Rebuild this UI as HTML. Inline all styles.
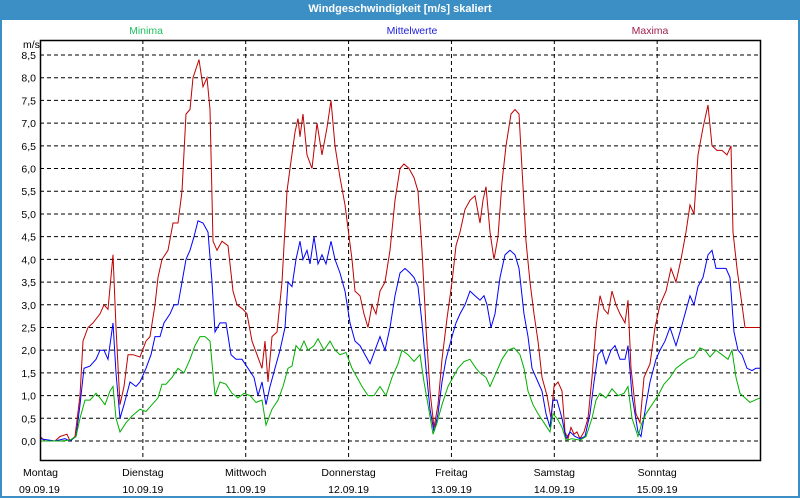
<!DOCTYPE html>
<html><head><meta charset="utf-8"><style>
body{margin:0;width:800px;height:500px;overflow:hidden;background:#fff;font-family:"Liberation Sans",sans-serif}
#f{position:absolute;left:0;top:0;width:796px;height:496px;border:2px solid #3c8fc4;border-top:none}
#t{position:absolute;left:0;top:0;width:800px;height:20px;background:#3c8fc4;color:#fff;font-weight:bold;font-size:11px;text-align:center;line-height:19px}
</style></head><body>
<div id="f"></div><div id="t">Windgeschwindigkeit [m/s] skaliert</div>
<svg id="s" width="800" height="500" style="position:absolute;left:0;top:0" font-family="Liberation Sans, sans-serif" font-size="10.5"></svg>
<script>
const s=document.getElementById('s');let h='';
const Y=v=>441-v*45.41;
for(let i=0;i<=17;i++){const v=i*0.5,y=Y(v);h+=`<line x1="40" x2="760" y1="${y}" y2="${y}" stroke="#000" stroke-dasharray="4,3"/>`;h+=`<text x="36" y="${y+4}" text-anchor="end">${v.toFixed(1).replace('.',',')}</text>`;}
const days=['Montag','Dienstag','Mittwoch','Donnerstag','Freitag','Samstag','Sonntag'];
for(let k=0;k<7;k++){const x=40+102.86*k;if(k>0)h+=`<line x1="${x}" x2="${x}" y1="40" y2="460" stroke="#000" stroke-dasharray="4,3"/>`;
h+=`<text x="${k?x:23}" y="476" text-anchor="${k?'middle':'start'}">${days[k]}</text><text x="${k?x:19}" y="493" text-anchor="${k?'middle':'start'}">${String(9+k).padStart(2,'0')}.09.19</text>`;}
h+=`<text x="23" y="48">m/s</text>`;
h+=`<text x="146" y="34" fill="#20c060" text-anchor="middle">Minima</text><text x="412" y="34" fill="#2020e0" text-anchor="middle">Mittelwerte</text><text x="650" y="34" fill="#a02050" text-anchor="middle">Maxima</text>`;
const R=[40,0.1,45,0,55,0,60,0.1,67,0.15,70,0,75,0.1,80,1.0,83,2.2,88,2.5,93,2.6,100,2.8,104,3.0,108,2.9,113,4.1,116,2.5,120,0.8,124,1.2,128,1.9,133,1.9,140,1.85,146,2.2,150,2.3,155,3.0,158,3.6,162,4.0,168,4.2,173,4.8,178,4.8,182,5.5,186,7.2,190,7.3,193,8.0,199,8.4,203,7.8,207,8.0,210,7.3,213,4.4,217,4.2,222,4.4,228,4.3,233,3.3,237,3.0,243,2.9,247,2.8,252,2.2,257,1.9,262,1.6,265,2.2,268,1.3,272,2.3,277,2.4,282,3.5,287,5.5,290,6.0,295,6.8,298,7.1,300,6.7,303,7.2,307,6.3,312,6.0,317,7.0,322,6.3,327,6.9,331,7.5,335,6.5,340,5.8,345,5.2,352,4.0,355,3.3,360,3.2,364,2.8,368,2.5,372,3.0,376,2.8,380,3.3,385,3.5,390,4.2,395,5.3,400,6.0,404,6.1,409,6.0,414,5.8,418,5.5,422,4.2,426,2.5,430,1.1,434,0.3,438,0.8,442,1.8,447,2.7,452,3.5,456,4.3,460,4.6,465,5.1,470,5.3,475,5.4,480,4.8,483,5.3,486,5.6,490,4.6,494,4.0,498,4.5,502,5.7,506,6.5,511,7.2,515,7.3,519,7.2,522,6.0,526,4.4,530,3.5,534,2.8,538,2.2,542,1.4,547,1.0,551,0.5,554,1.2,558,1.3,562,1.1,565,0.2,568,0.05,571,0.3,574,0.15,577,0.2,580,0.05,584,0.2,588,0.5,592,1.4,596,2.5,600,3.2,604,2.9,608,2.8,612,3.3,616,3.0,620,2.8,625,2.6,628,3.1,631,1.6,636,0.6,640,0.4,644,1.4,650,1.7,655,2.5,660,3.0,666,3.3,671,3.8,676,3.5,681,4.0,686,4.6,690,5.2,694,5.0,698,6.3,703,6.9,708,7.4,712,6.5,717,6.4,722,6.4,727,6.3,731,6.5,733,4.6,737,3.8,742,3.0,745,2.5,752,2.5,757,2.5,760,2.5];
const B=[40,0.05,55,0,65,0.05,70,0,76,0.1,80,0.8,84,1.6,90,1.65,96,1.8,100,2.0,104,2.0,108,1.8,113,2.6,116,1.5,120,0.5,124,0.8,130,1.3,136,1.2,140,1.3,146,1.6,151,1.9,155,2.3,160,2.3,164,2.6,170,2.8,174,3.0,178,3.0,182,3.5,186,4.0,190,4.2,194,4.5,198,4.85,203,4.8,208,4.6,212,3.5,215,2.4,220,2.6,226,2.6,231,1.9,236,1.8,242,1.8,248,1.6,254,1.4,258,1.0,262,1.3,266,0.8,270,1.2,275,1.6,280,2.0,285,2.5,288,3.5,292,3.4,296,4.0,300,4.4,303,4.0,307,4.2,310,3.9,314,4.5,318,3.9,322,4.1,326,3.9,331,4.4,335,4.0,340,3.7,345,3.3,350,2.6,355,2.2,360,2.1,365,1.9,370,1.7,375,2.0,380,2.3,385,2.0,390,2.5,395,3.2,400,3.7,405,3.8,410,3.7,414,3.6,418,3.4,422,2.6,426,1.6,430,0.7,434,0.2,438,0.6,442,1.3,446,1.8,452,2.3,456,2.6,460,2.8,465,3.0,470,3.3,475,3.2,480,3.1,484,3.2,487,3.0,491,2.5,495,2.8,500,3.6,505,4.1,510,4.2,515,4.1,519,3.8,524,2.8,528,2.3,532,1.6,538,1.3,542,1.1,546,0.6,550,0.3,553,0.9,557,0.9,562,0.5,566,0.05,570,0.2,575,0.1,580,0.05,585,0.1,590,0.6,594,1.3,598,1.9,602,2.0,606,1.7,611,2.0,615,2.1,620,1.8,625,1.8,628,2.1,632,1.0,638,0.2,641,0.1,646,0.8,650,1.3,656,1.8,660,2.0,665,2.2,670,2.5,676,2.1,680,2.4,685,2.8,690,3.2,694,3.0,698,3.4,703,3.6,708,4.1,712,4.2,716,3.8,720,3.8,726,3.8,730,3.6,734,2.4,738,2.0,742,1.9,747,1.6,752,1.55,756,1.6,760,1.6];
const G=[40,0,60,0,70,0.02,76,0.1,80,0.5,85,0.9,90,0.9,96,1.05,100,0.95,105,0.8,110,1.1,113,1.2,116,0.5,120,0.2,126,0.4,132,0.55,140,0.7,146,0.65,152,0.8,158,0.95,162,1.25,166,1.25,172,1.4,178,1.6,184,1.5,190,1.8,195,2.1,200,2.3,205,2.3,210,2.2,215,1.0,220,1.3,226,1.25,232,1.05,238,0.95,244,1.05,250,1.0,256,0.85,262,0.9,266,0.35,272,0.7,278,0.9,283,1.2,288,1.6,292,1.65,296,2.1,300,2.0,304,2.2,308,2.0,314,2.1,318,2.25,324,2.0,330,2.2,335,2.0,340,1.9,346,1.95,352,1.6,357,1.4,362,1.2,368,1.0,374,1.0,380,1.2,386,1.0,392,1.4,398,1.7,402,2.0,408,1.9,414,1.75,420,1.9,424,1.3,428,0.8,433,0.15,437,0.4,442,0.8,448,1.2,453,1.4,458,1.6,464,1.75,470,1.8,476,1.6,480,1.5,486,1.4,490,1.2,496,1.5,502,1.8,508,2.0,514,2.05,520,1.9,524,1.6,528,1.1,533,0.8,538,0.6,544,0.4,550,0.2,553,0.6,557,0.5,562,0.3,566,0.02,572,0.05,580,0.02,586,0.1,592,0.5,596,0.9,600,1.05,606,0.95,612,1.15,618,1.0,624,1.05,628,1.2,632,0.5,638,0.1,642,0.4,646,0.6,652,0.8,658,1.0,664,1.25,670,1.4,676,1.6,682,1.7,688,1.8,694,1.85,700,2.05,705,2.0,710,1.85,716,2.0,722,1.9,728,1.8,732,2.0,736,1.4,740,1.05,745,0.95,750,0.85,755,0.9,760,0.95];
const pl=(a,c)=>{let p=[];for(let i=0;i<a.length;i+=2)p.push(a[i]+','+Y(a[i+1]).toFixed(1));return `<polyline fill="none" stroke="${c}" stroke-width="1" points="${p.join(' ')}"/>`;};
h+=pl(R,'#c00000')+pl(B,'#0000ff')+pl(G,'#00b000');
h+=`<rect x="40.5" y="40.5" width="720" height="420" fill="none" stroke="#000" stroke-width="1.5"/>`;
s.innerHTML=h;
</script>
</body></html>
